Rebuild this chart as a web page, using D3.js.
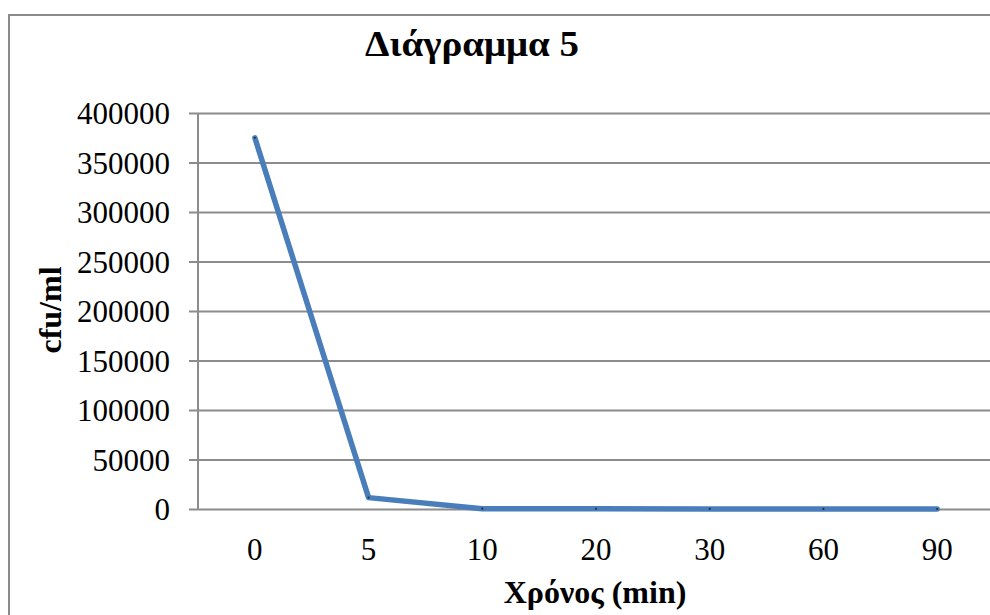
<!DOCTYPE html>
<html>
<head>
<meta charset="utf-8">
<script src="https://cdn.jsdelivr.net/npm/d3@7"></script>
<style>
  html, body { margin: 0; padding: 0; background: #fff; }
  svg { display: block; }
  text { font-family: "Liberation Serif", "Times New Roman", serif; fill: #000; }
</style>
</head>
<body>
<svg id="chart" width="990" height="615"></svg>
<script>
// Time points (min) and measured counts (cfu/ml)
const categories = ["0", "5", "10", "20", "30", "60", "90"];
const cfuValues = [375000, 11500, 300, 200, 100, 50, 20];
const yTicks = [0, 50000, 100000, 150000, 200000, 250000, 300000, 350000, 400000];

const chartTitle = "Διάγραμμα 5";
const xTitle = "Χρόνος (min)";
const yTitle = "cfu/ml";

const svg = d3.select("#chart");
const gridColor = "#8c8c8c";

// Outer chart frame
svg.append("rect")
  .attr("x", 9).attr("y", 15)
  .attr("width", 1000).attr("height", 640)
  .attr("fill", "#fff")
  .attr("stroke", "#8a8a8a").attr("stroke-width", 2);

const plot = { left: 198, right: 994, top: 113, bottom: 509 };

const x = d3.scaleBand().domain(categories).range([plot.left, plot.right]).padding(0);
const y = d3.scaleLinear().domain([0, 400000]).range([plot.bottom, plot.top]);

// Horizontal gridlines with left tick marks
const yAxis = d3.axisLeft(y)
  .tickValues(yTicks)
  .tickSize(-(plot.right - plot.left))
  .tickSizeOuter(0)
  .tickFormat(d3.format("d"))
  .tickPadding(20);

const gy = svg.append("g")
  .attr("transform", `translate(${plot.left},0)`)
  .call(yAxis);
gy.select(".domain").remove();
gy.selectAll(".tick line")
  .attr("x1", -9)
  .attr("stroke", gridColor).attr("stroke-width", 2);
gy.selectAll(".tick text")
  .attr("x", -28)
  .attr("dy", "0.34em")
  .style("font-size", "31px");

// Vertical axis line
svg.append("line")
  .attr("x1", plot.left).attr("x2", plot.left)
  .attr("y1", plot.top).attr("y2", plot.bottom)
  .attr("stroke", gridColor).attr("stroke-width", 2);

// Category axis labels
const xAxis = d3.axisBottom(x).tickSize(0).tickPadding(0);
const gx = svg.append("g")
  .attr("transform", `translate(0,${plot.bottom})`)
  .call(xAxis);
gx.select(".domain").remove();
gx.selectAll(".tick text")
  .attr("y", 51)
  .attr("dy", 0)
  .style("font-size", "31px");

// Data line
const line = d3.line()
  .x((d, i) => x(categories[i]) + x.bandwidth() / 2)
  .y(d => y(d));

svg.append("path")
  .datum(cfuValues)
  .attr("d", line)
  .attr("fill", "none")
  .attr("stroke", "#4a7ebb")
  .attr("stroke-width", 5.5)
  .attr("stroke-linejoin", "round")
  .attr("stroke-linecap", "round");

svg.selectAll(".pt")
  .data(cfuValues)
  .join("circle")
  .attr("class", "pt")
  .attr("cx", (d, i) => x(categories[i]) + x.bandwidth() / 2)
  .attr("cy", d => y(d))
  .attr("r", 1.1)
  .attr("fill", "#1f2f4a");

// Titles
svg.append("text")
  .attr("x", 472).attr("y", 56)
  .attr("text-anchor", "middle")
  .attr("textLength", 214)
  .attr("lengthAdjust", "spacingAndGlyphs")
  .style("font-size", "36px").style("font-weight", "bold")
  .text(chartTitle);

svg.append("text")
  .attr("x", 595).attr("y", 603)
  .attr("text-anchor", "middle")
  .style("font-size", "32px").style("font-weight", "bold")
  .text(xTitle);

svg.append("text")
  .attr("transform", "translate(61,310) rotate(-90)")
  .attr("text-anchor", "middle")
  .style("font-size", "32px").style("font-weight", "bold")
  .text(yTitle);
</script>
</body>
</html>
